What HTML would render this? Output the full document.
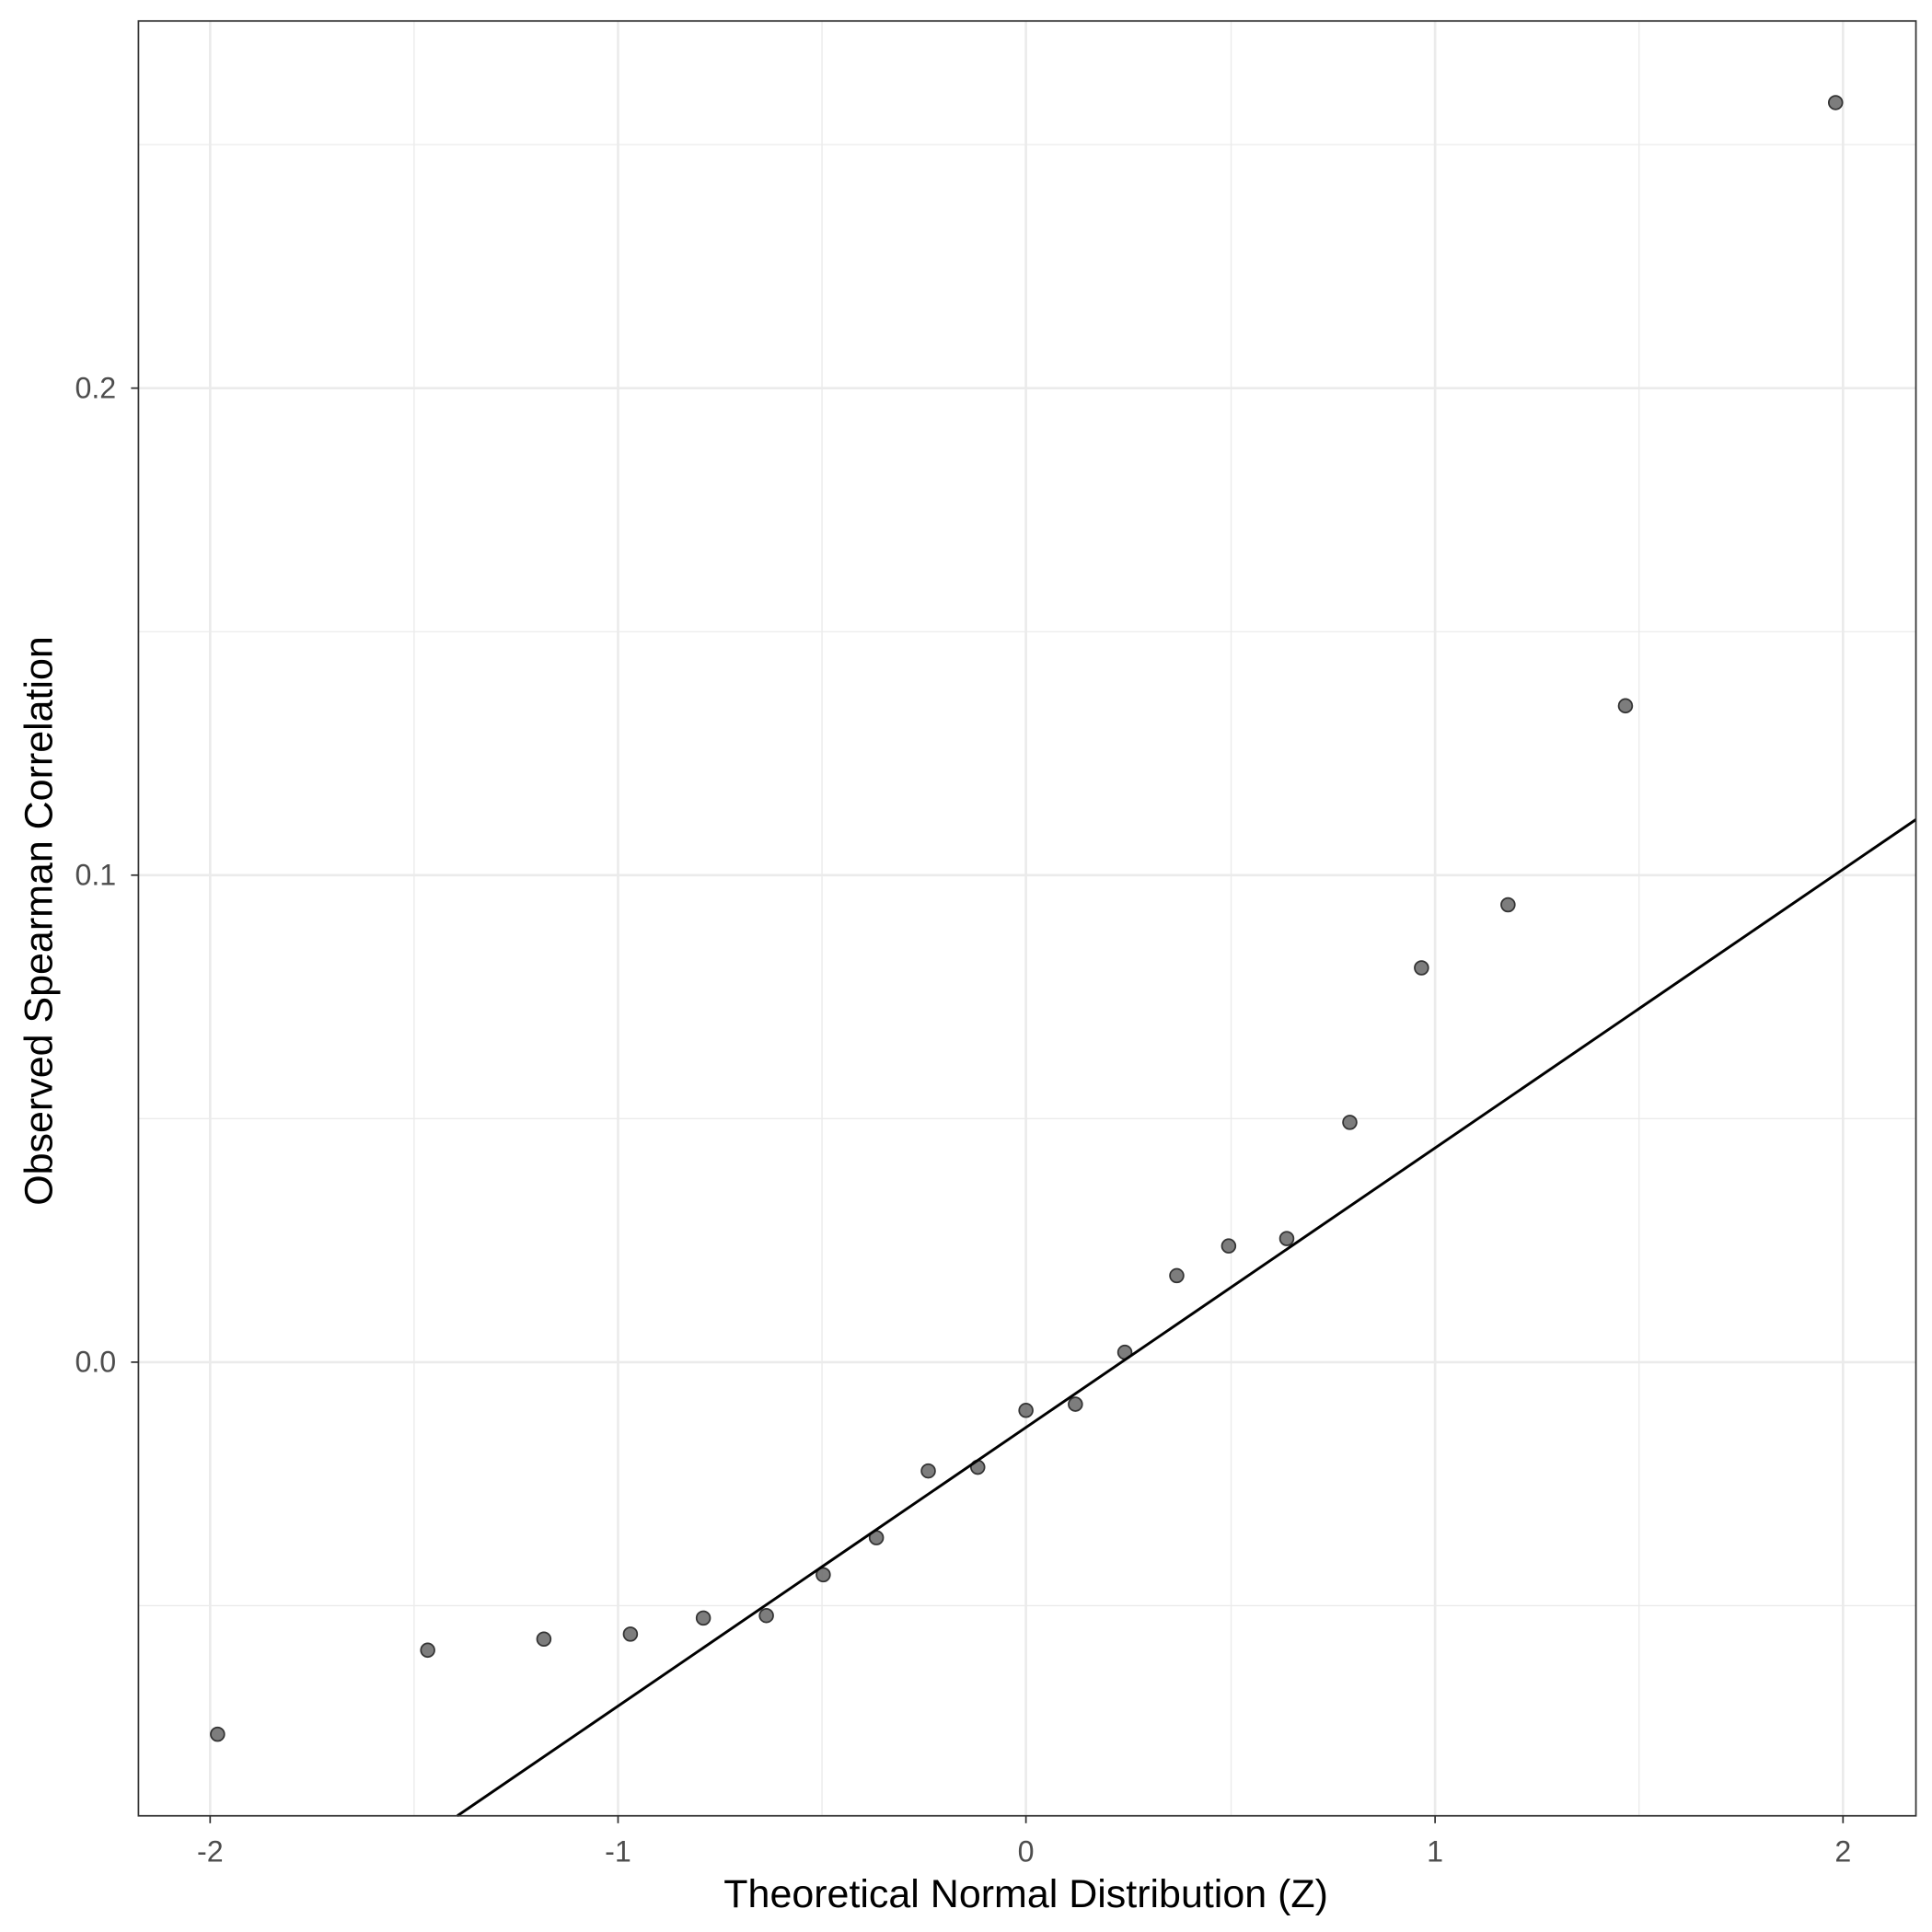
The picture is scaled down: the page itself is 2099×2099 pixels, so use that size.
<!DOCTYPE html>
<html><head><style>html,body{margin:0;padding:0;background:#fff}svg{display:block}</style></head>
<body>
<svg width="2099" height="2099" viewBox="0 0 1563 1563" xmlns="http://www.w3.org/2000/svg" font-family="Liberation Sans, sans-serif">
<rect width="1563" height="1563" fill="#fff"/>
<g stroke="#ebebeb" stroke-width="1">
<line x1="112" x2="1550" y1="117" y2="117"/><line x1="112" x2="1550" y1="511" y2="511"/>
<line x1="112" x2="1550" y1="905" y2="905"/><line x1="112" x2="1550" y1="1299" y2="1299"/>
<line y1="17" y2="1469" x1="335" x2="335"/><line y1="17" y2="1469" x1="665" x2="665"/>
<line y1="17" y2="1469" x1="996" x2="996"/><line y1="17" y2="1469" x1="1326" x2="1326"/>
</g>
<g stroke="#ebebeb" stroke-width="2">
<line x1="112" x2="1550" y1="314" y2="314"/><line x1="112" x2="1550" y1="708" y2="708"/><line x1="112" x2="1550" y1="1102" y2="1102"/>
<line y1="17" y2="1469" x1="170" x2="170"/><line y1="17" y2="1469" x1="500" x2="500"/><line y1="17" y2="1469" x1="830" x2="830"/><line y1="17" y2="1469" x1="1161" x2="1161"/><line y1="17" y2="1469" x1="1491" x2="1491"/>
</g>
<g fill="#666" fill-opacity="0.85" stroke="#333" stroke-width="1.3">
<circle cx="176" cy="1403" r="5.5"/><circle cx="346" cy="1335" r="5.5"/><circle cx="440" cy="1326" r="5.5"/><circle cx="510" cy="1322" r="5.5"/><circle cx="569" cy="1309" r="5.5"/><circle cx="620" cy="1307" r="5.5"/><circle cx="666" cy="1274" r="5.5"/><circle cx="709" cy="1244" r="5.5"/><circle cx="751" cy="1190" r="5.5"/><circle cx="791" cy="1187" r="5.5"/><circle cx="830" cy="1141" r="5.5"/><circle cx="870" cy="1136" r="5.5"/><circle cx="910" cy="1094" r="5.5"/><circle cx="952" cy="1032" r="5.5"/><circle cx="994" cy="1008" r="5.5"/><circle cx="1041" cy="1002" r="5.5"/><circle cx="1092" cy="908" r="5.5"/><circle cx="1150" cy="783" r="5.5"/><circle cx="1220" cy="732" r="5.5"/><circle cx="1315" cy="571" r="5.5"/><circle cx="1485" cy="83" r="5.5"/>
</g>
<line x1="370" y1="1469" x2="1550" y2="663" stroke="#000" stroke-width="2.2"/>
<rect x="112" y="17" width="1438" height="1452" fill="none" stroke="#333" stroke-width="1.3"/>
<g stroke="#333" stroke-width="1.3">
<line x1="106" x2="112" y1="314" y2="314"/><line x1="106" x2="112" y1="708" y2="708"/><line x1="106" x2="112" y1="1102" y2="1102"/>
<line y1="1469" y2="1475" x1="170" x2="170"/><line y1="1469" y2="1475" x1="500" x2="500"/><line y1="1469" y2="1475" x1="830" x2="830"/><line y1="1469" y2="1475" x1="1161" x2="1161"/><line y1="1469" y2="1475" x1="1491" x2="1491"/>
</g>
<g fill="#4d4d4d" font-size="24" text-anchor="end">
<text x="94" y="322">0.2</text><text x="94" y="716">0.1</text><text x="94" y="1110">0.0</text>
</g>
<g fill="#4d4d4d" font-size="24" text-anchor="middle">
<text x="170" y="1506">-2</text><text x="500" y="1506">-1</text><text x="830" y="1506">0</text><text x="1161" y="1506">1</text><text x="1491" y="1506">2</text>
</g>
<text x="830" y="1543" font-size="32" text-anchor="middle">Theoretical Normal Distribution (Z)</text>
<text transform="translate(42,745) rotate(-90)" font-size="32" text-anchor="middle">Observed Spearman Correlation</text>
</svg>
</body></html>
